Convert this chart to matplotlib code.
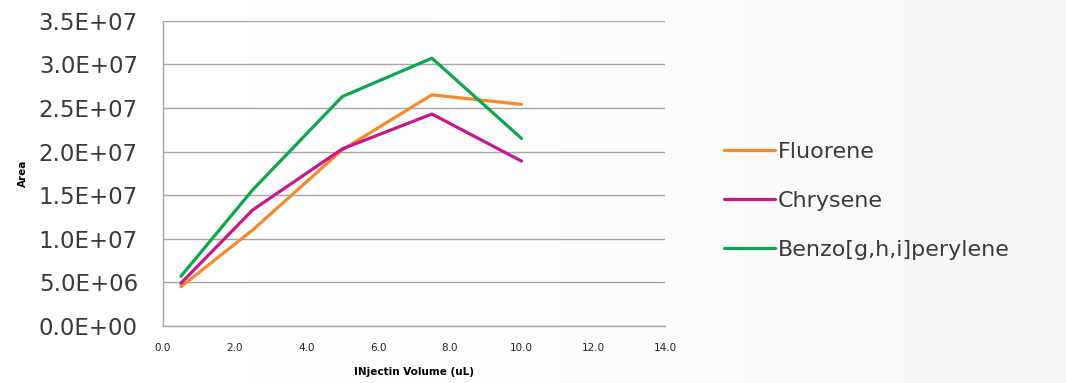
import numpy as np
import matplotlib
matplotlib.use('Agg')
from matplotlib import pyplot as plt
from matplotlib.ticker import FuncFormatter, MultipleLocator

# data
volume = [0.5, 2.5, 5.0, 7.5, 10.0]
fluorene = [4.5e6, 1.10e7, 2.02e7, 2.65e7, 2.54e7]
chrysene = [4.9e6, 1.33e7, 2.03e7, 2.43e7, 1.89e7]
benzo = [5.7e6, 1.56e7, 2.63e7, 3.07e7, 2.15e7]
series_names = ['Fluorene', 'Chrysene', 'Benzo[g,h,i]perylene']
colors = ['#F7892B', '#C41A8C', '#0DA64F']

fig = plt.figure(figsize=(10.66, 3.83), dpi=100)

# light gradient background, white on the left to grey on the right
bg = fig.add_axes([0, 0, 1, 1], zorder=-10)
grad = np.linspace(0, 1, 256) ** 2
grad = np.vstack([grad, grad])
bg.imshow(grad, aspect='auto', cmap='Greys', vmin=0, vmax=14, extent=[0, 1, 0, 1])
bg.axis('off')

ax = fig.add_axes([0.1529, 0.1488, 0.4709, 0.7972])
ax.patch.set_alpha(0)

for vals, name, c in zip([fluorene, chrysene, benzo], series_names, colors):
    ax.plot(volume, vals, color=c, lw=2.3, label=name, solid_capstyle='round')

ax.set_xlim(0, 14)
ax.set_ylim(0, 3.5e7)
ax.xaxis.set_major_locator(MultipleLocator(2))
ax.yaxis.set_major_locator(MultipleLocator(5e6))
ax.xaxis.set_major_formatter(FuncFormatter(lambda v, p: '%.1f' % v))
ax.yaxis.set_major_formatter(FuncFormatter(lambda v, p: '%.1E' % v))

ax.grid(axis='y', color='#A6A6A6', lw=1.0)
ax.set_axisbelow(True)
for s in ['top', 'right']:
    ax.spines[s].set_visible(False)
for s in ['left', 'bottom']:
    ax.spines[s].set_color('#A6A6A6')
    ax.spines[s].set_linewidth(1.0)

ax.tick_params(axis='y', length=0, pad=18, labelsize=16.5, labelcolor='#3a3a3a')
ax.tick_params(axis='x', length=0, pad=12, labelsize=7.5, labelcolor='#222222')

ax.set_ylabel('Area', fontsize=7.5, fontweight='bold')
ax.set_xlabel('INjectin Volume (uL)', fontsize=7.5, fontweight='bold', labelpad=10)
ax.yaxis.set_label_coords(-0.269, 0.5)

fig.legend(loc='center left', bbox_to_anchor=(0.66, 0.475), frameon=False,
           fontsize=16, handlelength=2.3, handletextpad=0.15, labelspacing=1.3,
           labelcolor='#3a3a3a')

fig.savefig('out.png', dpi=100)
